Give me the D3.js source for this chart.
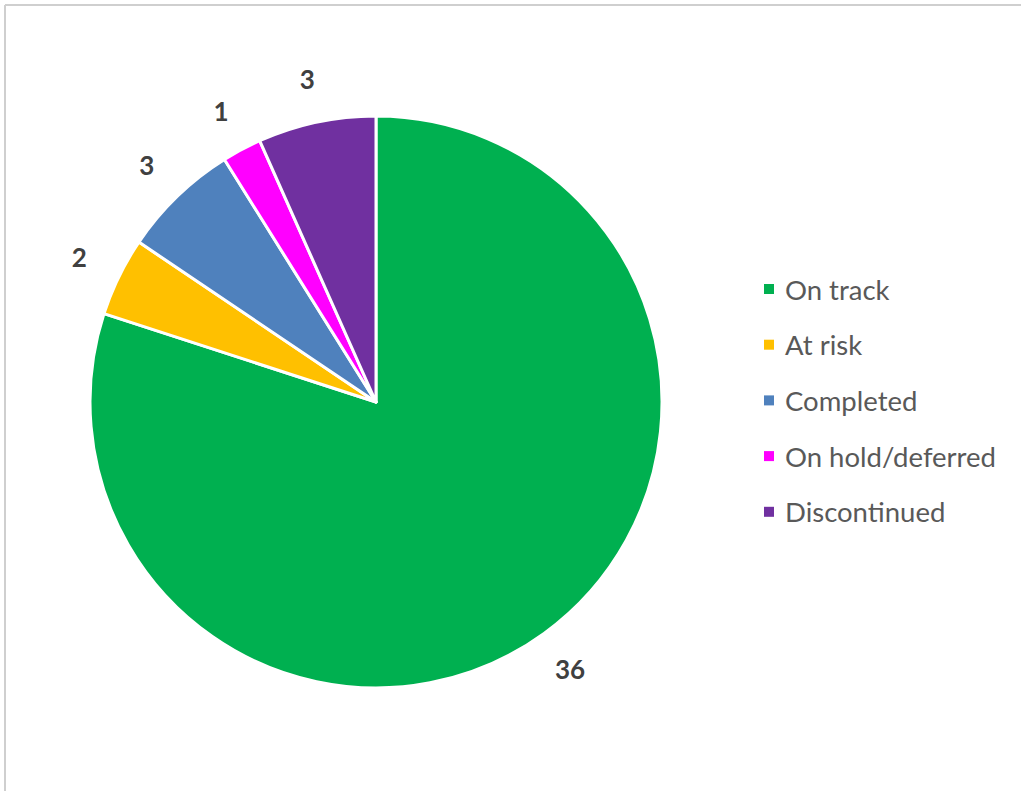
<!DOCTYPE html>
<html>
<head>
<meta charset="utf-8">
<script src="https://cdn.jsdelivr.net/npm/d3@7"></script>
<style>
  html, body { margin: 0; padding: 0; background: #fff; }
  svg { display: block; }
</style>
</head>
<body>
<svg id="chart" width="1021" height="791"></svg>
<script>
// Project status counts
const categories = ["On track", "At risk", "Completed", "On hold/deferred", "Discontinued"];
const counts = [36, 2, 3, 1, 3];
const colors = ["#00B050", "#FFC000", "#4F81BD", "#FF00FF", "#7030A0"];

const svg = d3.select("#chart");
const W = 1021, H = 791;

svg.append("rect").attr("width", W).attr("height", H).attr("fill", "#fff");

// chart frame (top and left edges visible)
svg.append("line").attr("x1", 5).attr("y1", 5).attr("x2", W).attr("y2", 5)
  .attr("stroke", "#cfcfcf").attr("stroke-width", 2);
svg.append("line").attr("x1", 5).attr("y1", 5).attr("x2", 5).attr("y2", H)
  .attr("stroke", "#cfcfcf").attr("stroke-width", 2);

const cx = 376, cy = 402, radius = 286;
const data = categories.map((c, i) => ({ name: c, value: counts[i], color: colors[i] }));

const pie = d3.pie().value(d => d.value).sort(null);
const arcs = pie(data);
const arc = d3.arc().innerRadius(0).outerRadius(radius);

const g = svg.append("g").attr("transform", `translate(${cx},${cy})`);

g.selectAll("path.slice")
  .data(arcs)
  .join("path")
  .attr("class", "slice")
  .attr("d", arc)
  .attr("fill", d => d.data.color)
  .attr("stroke", "#fff")
  .attr("stroke-width", 3)
  .attr("stroke-linejoin", "round");

// value labels just outside each slice
const labelArc = d3.arc().innerRadius(radius + 44).outerRadius(radius + 44);
g.selectAll("text.value")
  .data(arcs)
  .join("text")
  .attr("class", "value")
  .attr("transform", d => `translate(${labelArc.centroid(d)})`)
  .attr("text-anchor", "middle")
  .attr("dominant-baseline", "central")
  .attr("font-family", "Lato, 'Open Sans', sans-serif")
  .attr("font-weight", "bold")
  .attr("font-size", 26)
  .attr("fill", "#404040")
  .text(d => d.data.value);

// legend
const legendX = 764, legendY0 = 289, legendStep = 55.7;
const legend = svg.append("g")
  .selectAll("g")
  .data(data)
  .join("g")
  .attr("transform", (d, i) => `translate(${legendX},${legendY0 + i * legendStep})`);

legend.append("rect")
  .attr("x", 0).attr("y", -5)
  .attr("width", 10).attr("height", 10)
  .attr("fill", d => d.color);

legend.append("text")
  .attr("x", 21)
  .attr("y", 0)
  .attr("dominant-baseline", "central")
  .attr("font-family", "Lato, 'Open Sans', sans-serif")
  .attr("font-size", 27.5)
  .attr("fill", "#595959")
  .text(d => d.name);
</script>
</body>
</html>
